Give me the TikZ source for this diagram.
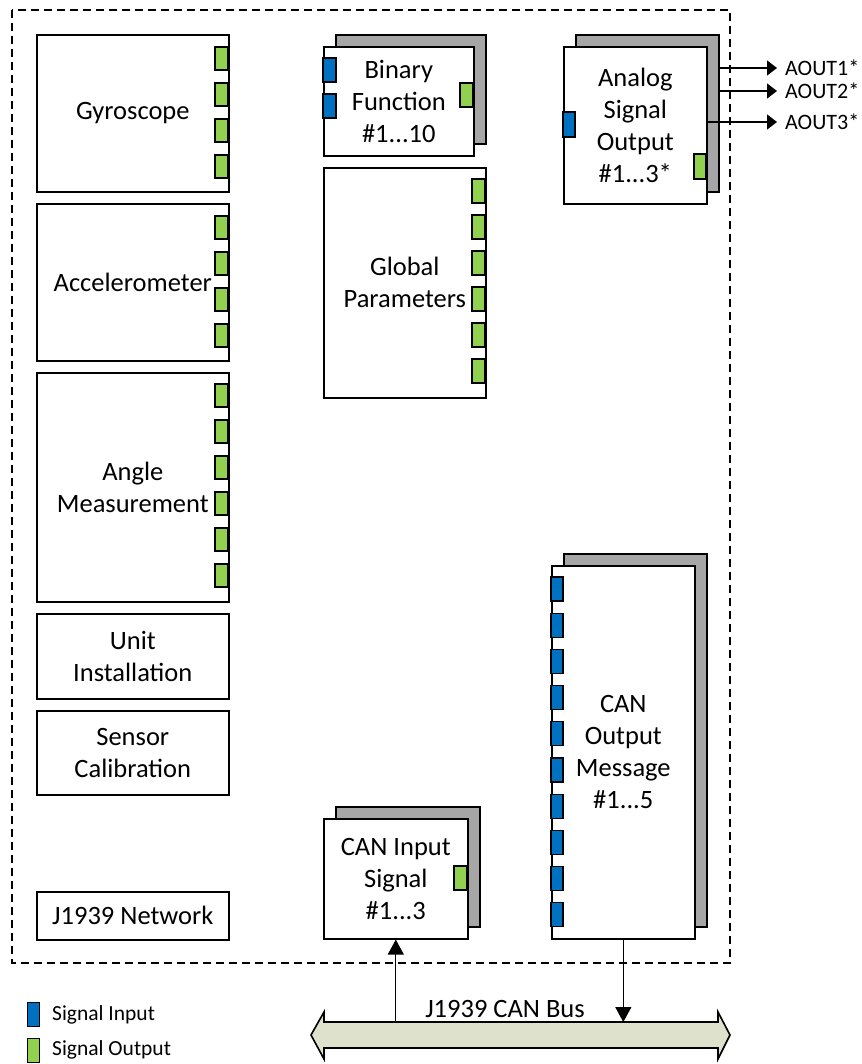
\documentclass[tikz,border=0pt]{standalone}
\usepackage{fontspec}
\setmainfont{Carlito}
\usetikzlibrary{arrows.meta}
\definecolor{pgreen}{HTML}{92D050}
\definecolor{pblue}{HTML}{0070C0}
\definecolor{shade}{HTML}{A6A6A6}
\definecolor{busfill}{HTML}{DEE2CD}
\begin{document}
\begin{tikzpicture}[x=1pt,y=-1pt,
  box/.style={draw=black, line width=1.6pt, fill=white, align=center, anchor=north west,
    inner sep=0pt, font=\fontsize{26.5}{32}\selectfont},
  shadowbox/.style={draw=black, line width=1.6pt, fill=shade, anchor=north west, inner sep=0pt},
  portg/.style={draw=black, line width=1.3pt, fill=pgreen},
  portb/.style={draw=black, line width=1.3pt, fill=pblue},
  arrsmall/.style={line width=1.3pt, -{Triangle[length=10pt,width=15pt]}},
  arrbig/.style={line width=1.3pt, -{Triangle[length=15pt,width=16pt]}},
  outlbl/.style={font=\fontsize{22}{26}\selectfont, inner sep=0pt, anchor=west},
  leglbl/.style={font=\fontsize{21.5}{26}\selectfont, inner sep=0pt, anchor=west},
  legbox/.style={draw=black, line width=1.3pt, anchor=north west, inner sep=0pt,
    minimum width=12pt, minimum height=24pt},
  frame/.style={draw=black, line width=1.5pt, dash pattern=on 8pt off 5pt},
]
\useasboundingbox (0,0) rectangle (861,1064);

% outer dashed frame
\draw[frame] (12,10) rectangle (730,963);

% left column
\node[box, minimum width=192pt, minimum height=157pt] (gyro) at (36,34) {Gyroscope};
\node[box, minimum width=192pt, minimum height=157pt] (acc) at (36,203) {Accelerometer};
\node[box, minimum width=192pt, minimum height=229pt] (angle) at (36,372) {Angle\\Measurement};
\node[box, minimum width=192pt, minimum height=85pt] (unit) at (36,613) {Unit\\Installation};
\node[box, minimum width=192pt, minimum height=84pt] (calib) at (36,710) {Sensor\\Calibration};
\node[box, minimum width=192pt, minimum height=48pt] (net) at (36,891) {J1939 Network};

\foreach \y in {47,83,119,155} \draw[portg] (215,\y) rectangle ++(13,23);
\foreach \y in {216,252,288,324} \draw[portg] (215,\y) rectangle ++(13,23);
\foreach \y in {384,420,456,492,528,564} \draw[portg] (215,\y) rectangle ++(13,23);

% binary function
\node[shadowbox, minimum width=150pt, minimum height=109pt] (binsh) at (335,34) {};
\node[box, minimum width=150pt, minimum height=109pt] (bin) at (323,46) {Binary\\Function\\\#1...10};
\foreach \y in {58,94} \draw[portb] (323,\y) rectangle ++(13,24);
\draw[portg] (460,83) rectangle ++(13,24);

% global parameters
\node[box, minimum width=162pt, minimum height=230pt] (glob) at (323,167) {Global\\Parameters};
\foreach \y in {179,215,251,287,323,359} \draw[portg] (472,\y) rectangle ++(13,24);

% analog signal output
\node[shadowbox, minimum width=143pt, minimum height=157pt] (anash) at (575,34) {};
\node[box, minimum width=143pt, minimum height=157pt] (ana) at (563,46) {Analog\\Signal\\Output\\\#1...3*};
\draw[portb] (563,112) rectangle ++(12,25);
\draw[portg] (694,154) rectangle ++(12,25);

\node[outlbl] (aout1) at (785,68) {AOUT1*};
\node[outlbl] (aout2) at (785,91) {AOUT2*};
\node[outlbl] (aout3) at (785,122) {AOUT3*};
\draw[arrsmall] (anash.east |- aout1.west) -- ([xshift=-8pt]aout1.west);
\draw[arrsmall] (anash.east |- aout2.west) -- ([xshift=-8pt]aout2.west);
\draw[arrsmall] (ana.east |- aout3.west) -- ([xshift=-8pt]aout3.west);

% CAN output message
\node[shadowbox, minimum width=143pt, minimum height=373pt] (cansh) at (563,553) {};
\node[box, minimum width=143pt, minimum height=373pt] (canout) at (551,565) {CAN\\Output\\Message\\\#1...5};
\foreach \i in {0,...,9} \draw[portb] (551,577+36.2*\i) rectangle ++(12,24);

% CAN input signal
\node[shadowbox, minimum width=144pt, minimum height=120pt] (cinsh) at (335,806) {};
\node[box, minimum width=144pt, minimum height=120pt] (canin) at (323,818) {CAN Input\\Signal\\\#1...3};
\draw[portg] (454,866) rectangle ++(13,24);

% CAN bus
\coordinate (bustop) at (520,1022);
\draw[line width=1.6pt, fill=busfill]
  (311,1035) -- (324,1012) -- (324,1022) -- (718,1022) -- (718,1012) -- (730,1035)
  -- (718,1059) -- (718,1048) -- (324,1048) -- (324,1059) -- cycle;
\node[font=\fontsize{26.5}{30}\selectfont, inner sep=0pt] (buslbl) at (505,1009) {J1939 CAN Bus};
\draw[arrbig] (canout.south) -- (canout.south |- bustop);
\draw[arrbig] (canin.south |- bustop) -- (canin.south);

% legend
\node[legbox, fill=pblue] (legin) at (27,1002) {};
\node[leglbl] (leginl) at (52,1015) {Signal Input};
\node[legbox, fill=pgreen] (legout) at (27,1038) {};
\node[leglbl] (legoutl) at (52,1050) {Signal Output};
\end{tikzpicture}
\end{document}
